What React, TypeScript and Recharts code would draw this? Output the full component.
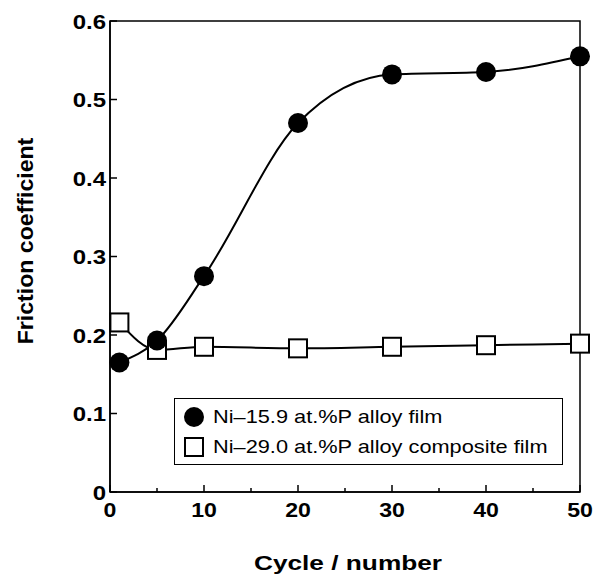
import { LineChart, Line, XAxis, YAxis, ReferenceArea, Legend } from "recharts"

const cycles = [1, 5, 10, 20, 30, 40, 50]
const alloyFilm = [0.165, 0.193, 0.275, 0.47, 0.532, 0.535, 0.555]
const compositeFilm = [0.216, 0.181, 0.185, 0.183, 0.185, 0.187, 0.189]
const xTicks = [0, 5, 10, 15, 20, 25, 30, 35, 40, 45, 50]
const yTicks = [0, 0.1, 0.2, 0.3, 0.4, 0.5, 0.6]
const seriesNames = ["Ni\u201315.9 at.%P alloy film", "Ni\u201329.0 at.%P alloy composite film"]

const data = cycles.map((c, i) => ({ cycle: c, alloy: alloyFilm[i], composite: compositeFilm[i] }))

const font = "'Liberation Sans', Arial, Helvetica, sans-serif"

// the source figure uses a wide bold sans, so text is stretched horizontally
function WideText({ x, y, sx, size, anchor, children, rotate }: any) {
  const t = rotate ? `translate(${x},${y}) rotate(-90) scale(${sx},1)` : `translate(${x},${y}) scale(${sx},1)`
  return (
    <text transform={t} x={0} y={0} textAnchor={anchor} fontFamily={font} fontWeight="bold" fontSize={size} fill="#000">
      {children}
    </text>
  )
}

function XTick(props: any) {
  const { x, y, payload } = props
  const major = payload.value % 10 === 0
  return (
    <g>
      <line x1={x} x2={x} y1={y} y2={y - (major ? 7 : 4)} stroke="#000" strokeWidth={1.5} />
      {major && (
        <WideText x={x} y={y + 25} sx={1.1} size={21} anchor="middle">
          {payload.value}
        </WideText>
      )}
    </g>
  )
}

function YTick(props: any) {
  const { x, y, payload } = props
  return (
    <g>
      <line x1={x} x2={x + 7} y1={y} y2={y} stroke="#000" strokeWidth={1.5} />
      <WideText x={x - 4} y={y + 7.5} sx={1.17} size={20.5} anchor="end">
        {payload.value}
      </WideText>
    </g>
  )
}

function SquareDot(props: any) {
  const { cx, cy } = props
  if (cx == null || cy == null) return null
  return <rect x={cx - 9} y={cy - 9} width={18} height={18} fill="#fff" stroke="#000" strokeWidth={2} />
}

function LegendBox() {
  const row = { display: "flex", alignItems: "center", height: 30 }
  const label = { display: "inline-block", transform: "scaleX(1.17)", transformOrigin: "left center", whiteSpace: "nowrap" as const }
  return (
    <div
      style={{
        border: "1.5px solid #000",
        background: "#fff",
        boxSizing: "border-box",
        height: 67,
        padding: "3px 0 0 8px",
        fontFamily: font,
        fontSize: 18.6,
        color: "#000",
      }}
    >
      <div style={row}>
        <svg width={22} height={22} style={{ marginRight: 8 }}>
          <circle cx={11} cy={11} r={10} fill="#000" />
        </svg>
        <span style={label}>{seriesNames[0]}</span>
      </div>
      <div style={row}>
        <svg width={22} height={22} style={{ marginRight: 8 }}>
          <rect x={2} y={2} width={18} height={18} fill="#fff" stroke="#000" strokeWidth={2} />
        </svg>
        <span style={label}>{seriesNames[1]}</span>
      </div>
    </div>
  )
}

export default function App() {
  return (
    <div style={{ position: "absolute", left: 0, top: 0, background: "#fff" }}>
      <LineChart width={593} height={575} data={data} margin={{ top: 21, right: 13, bottom: 23, left: 0 }}>
        <ReferenceArea x1={0} x2={50} y1={0} y2={0.6} fill="none" stroke="#000" strokeWidth={1.5} />
        <XAxis
          dataKey="cycle"
          type="number"
          domain={[0, 50]}
          ticks={xTicks}
          height={60}
          tickSize={0}
          tickMargin={0}
          tickLine={false}
          axisLine={{ stroke: "#000", strokeWidth: 1.5 }}
          tick={<XTick />}
          interval={0}
          label={{
            content: () => (
              <WideText x={348} y={570} sx={1.25} size={21} anchor="middle">
                Cycle / number
              </WideText>
            ),
          }}
        />
        <YAxis
          type="number"
          domain={[0, 0.6]}
          ticks={yTicks}
          width={110}
          tickSize={0}
          tickMargin={0}
          tickLine={false}
          axisLine={{ stroke: "#000", strokeWidth: 1.5 }}
          tick={<YTick />}
          interval={0}
          label={{
            content: () => (
              <WideText x={33} y={241} sx={1.05} size={22} anchor="middle" rotate>
                Friction coefficient
              </WideText>
            ),
          }}
        />
        <Legend
          layout="horizontal"
          verticalAlign="middle"
          align="center"
          content={() => <LegendBox />}
          wrapperStyle={{ left: 174, top: 398, width: 389, height: 67 }}
        />
        <Line
          type="monotone"
          dataKey="composite"
          name={seriesNames[1]}
          stroke="#000"
          strokeWidth={2}
          dot={<SquareDot />}
          activeDot={false}
          isAnimationActive={false}
        />
        <Line
          type="monotone"
          dataKey="alloy"
          name={seriesNames[0]}
          stroke="#000"
          strokeWidth={2}
          dot={{ r: 10, fill: "#000", stroke: "#000", strokeWidth: 0 }}
          activeDot={false}
          isAnimationActive={false}
        />
      </LineChart>
    </div>
  )
}
